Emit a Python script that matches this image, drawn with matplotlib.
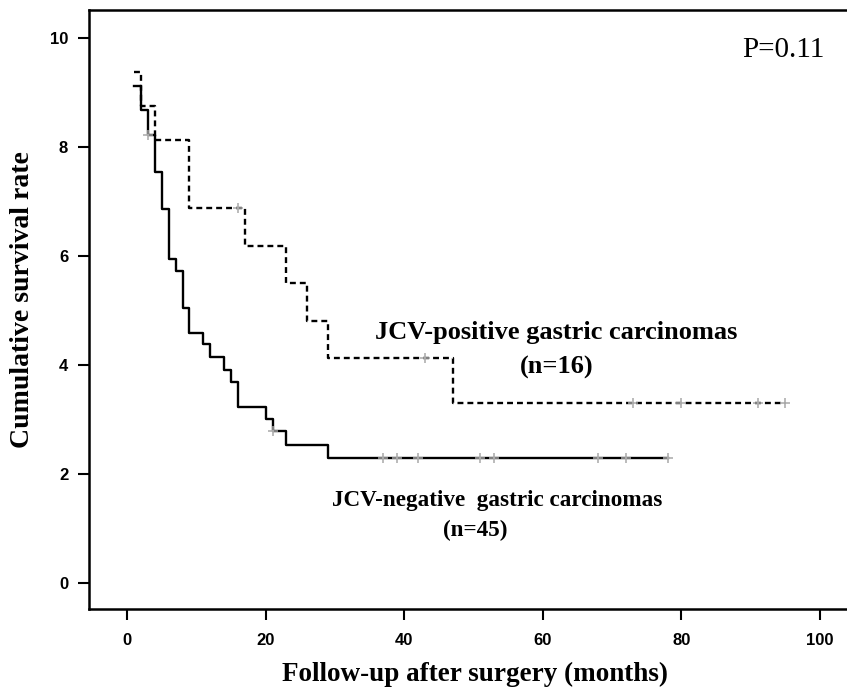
import numpy as np
import matplotlib
matplotlib.use("Agg")
import matplotlib.pyplot as plt

# survival curves (survival rate x 10)
pos_times = [1, 2, 4, 9, 17, 23, 26, 29, 47, 95]
pos_surv = [9.375, 8.75, 8.125, 6.875, 6.19, 5.5, 4.81, 4.125, 3.3, 3.3]
pos_censor = [16, 43, 73, 80, 91, 95]

neg_times = [1, 2, 3, 4, 5, 6, 7, 8, 9, 11, 12, 14, 15, 16, 20, 21, 23, 29, 78]
neg_surv = [9.11, 8.67, 8.22, 7.54, 6.86, 5.95, 5.72, 5.05, 4.59, 4.38, 4.15,
            3.91, 3.68, 3.22, 3.01, 2.79, 2.53, 2.29, 2.29]
neg_censor = [3, 21, 37, 39, 42, 51, 53, 68, 72, 78]

xticks = [0, 20, 40, 60, 80, 100]
yticks = [0, 2, 4, 6, 8, 10]


def level_at(times, surv, t):
    # value of the step curve at time t (post step)
    i = np.searchsorted(times, t, side="right") - 1
    return np.array(surv)[np.clip(i, 0, len(surv) - 1)]


serif = "Liberation Serif"
sans = "Liberation Sans"

fig = plt.figure(figsize=(8.47, 6.88), dpi=100)
ax = fig.add_axes([89 / 847, 1 - 609 / 688, 1 - 89 / 847, (609 - 10) / 688])

ax.step(pos_times, pos_surv, where="post", color="black", lw=1.7,
        linestyle=(0, (2.5, 1.7)))
ax.step(neg_times, neg_surv, where="post", color="black", lw=1.7)

ax.plot(pos_censor, level_at(pos_times, pos_surv, pos_censor), "+",
        color="#a8a8a8", ms=7, mew=1.1)
ax.plot(neg_censor, level_at(neg_times, neg_surv, neg_censor), "+",
        color="#a8a8a8", ms=7, mew=1.1)

ax.set_xlim(-5.5, 103.9)
ax.set_ylim(-0.477, 10.51)

for s in ["left", "bottom", "top"]:
    ax.spines[s].set_linewidth(1.8)
ax.spines["right"].set_visible(False)

ax.set_xticks(xticks)
ax.set_yticks(yticks)
ax.tick_params(axis="both", direction="out", length=8, width=1.5)
ax.tick_params(axis="x", pad=9)
ax.tick_params(axis="y", pad=7)
for lab in ax.get_xticklabels() + ax.get_yticklabels():
    lab.set_fontfamily(sans)
    lab.set_fontweight("bold")
    lab.set_fontsize(12)

ax.set_xlabel("Follow-up after surgery (months)", fontfamily=serif,
              fontweight="bold", fontsize=19.5, va="center")
ax.xaxis.set_label_coords(0.509, -0.11)
ax.set_ylabel("Cumulative survival rate", fontfamily=serif,
              fontweight="bold", fontsize=20, va="center")
ax.yaxis.set_label_coords(-0.088, 0.516)

ax.text(62.0, 4.59, "JCV-positive gastric carcinomas", ha="center", va="center",
        fontfamily=serif, fontweight="bold", fontsize=19)
ax.text(62.0, 3.96, "(n=16)", ha="center", va="center",
        fontfamily=serif, fontweight="bold", fontsize=19)
ax.text(53.4, 1.52, "JCV-negative  gastric carcinomas", ha="center", va="center",
        fontfamily=serif, fontweight="bold", fontsize=16.7)
ax.text(50.3, 0.97, "(n=45)", ha="center", va="center",
        fontfamily=serif, fontweight="bold", fontsize=16.7)
ax.text(94.7, 9.78, "P=0.11", ha="center", va="center",
        fontfamily=serif, fontsize=21)

fig.savefig("out.png", dpi=100)
